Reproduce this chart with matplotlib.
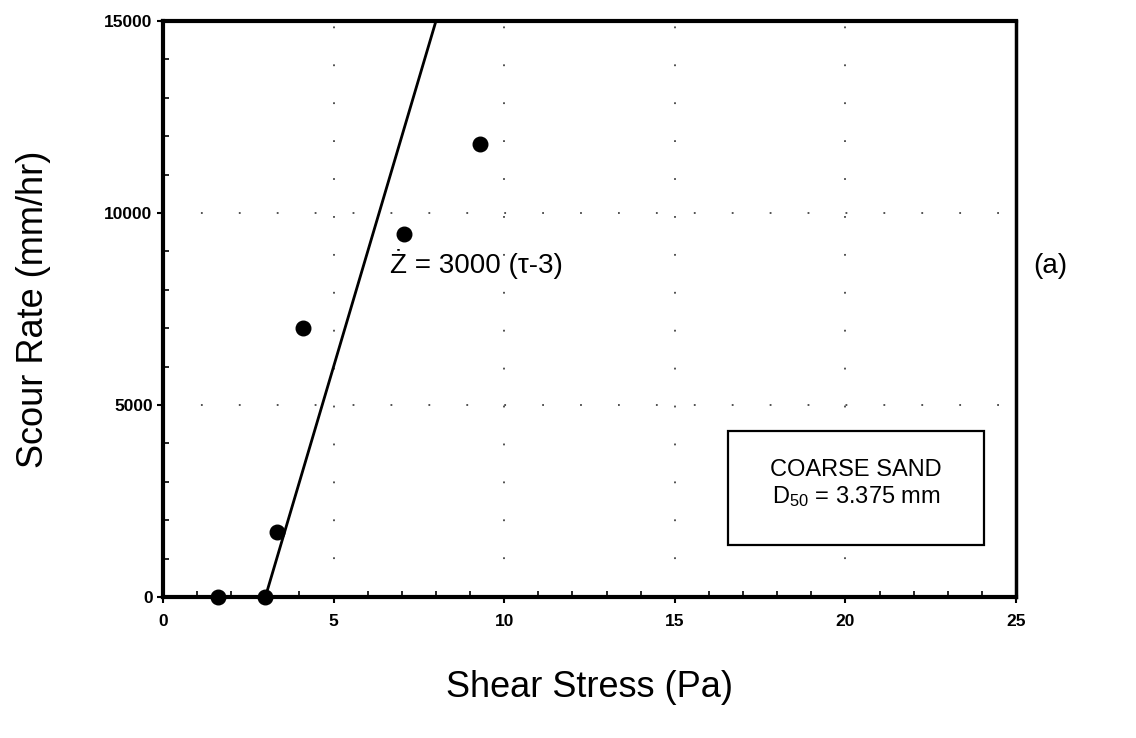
import matplotlib
matplotlib.use("Agg")
import matplotlib.pyplot as plt
from matplotlib.ticker import MultipleLocator
from matplotlib.patches import Rectangle

plt.rcParams['font.family'] = ['Liberation Sans', 'DejaVu Sans']

# Measured scour rates for coarse sand
shear_stress = [1.6, 3.0, 3.35, 4.1, 7.05, 9.3]
scour_rate = [0, 0, 1700, 7000, 9450, 11800]

# Fitted relation Z = 3000 (tau - 3)
fit_slope = 3000
fit_tau_c = 3.0
fit_tau = [fit_tau_c, 8.0]

x_ticks = [0, 5, 10, 15, 20, 25]
y_ticks = [0, 5000, 10000, 15000]

W, H = 1136, 738
fig = plt.figure(figsize=(W / 100, H / 100), dpi=100)
ax = fig.add_axes([163 / W, 1 - 597 / H, (1016 - 163) / W, (597 - 21) / H])

# sparse dotted grid
for xv in x_ticks[1:-1]:
    ax.axvline(xv, color='#444444', lw=1.3, ls=(0, (1, 20)), zorder=1)
for yv in y_ticks[1:-1]:
    ax.axhline(yv, color='#444444', lw=1.3, ls=(0, (1, 20)), zorder=1)

fit_z = [fit_slope * (t - fit_tau_c) for t in fit_tau]
ax.plot(fit_tau, fit_z, color='black', lw=2.0, zorder=3)
ax.plot([0, fit_tau_c], [0, 0], color='black', lw=2.0, zorder=3)
ax.scatter(shear_stress, scour_rate, s=110, color='black', zorder=4, clip_on=False)

ax.set_xlim(0, 25)
ax.set_ylim(0, 15000)
ax.set_xticks(x_ticks)
ax.set_yticks(y_ticks)
ax.xaxis.set_minor_locator(MultipleLocator(1))
ax.yaxis.set_minor_locator(MultipleLocator(1000))
ax.tick_params(axis='both', which='major', direction='out', length=4, width=1.5,
               labelsize=12.5)
ax.tick_params(axis='both', which='minor', direction='in', length=4, width=1.2)
ax.tick_params(axis='x', which='major', pad=8)
for lab in ax.get_xticklabels() + ax.get_yticklabels():
    lab.set_fontweight('bold')

for side in ['left', 'bottom', 'top']:
    ax.spines[side].set_linewidth(3.0)
ax.spines['right'].set_linewidth(2.5)

ax.set_xlabel('Shear Stress (Pa)', fontsize=26, labelpad=30)
ax.set_ylabel('Scour Rate (mm/hr)', fontsize=26, labelpad=38)

ax.text(6.65, 8680, '\u017b = 3000 (\u03c4-3)', fontsize=20,
        va='center', ha='left', zorder=5)

fig.text(1050 / W, 1 - 266 / H, '(a)', fontsize=20, va='center', ha='center')

# annotation box for the sediment description
bx0, bx1 = (728 - 163) / (1016 - 163), (984 - 163) / (1016 - 163)
by0, by1 = (597 - 545) / (597 - 21), (597 - 431) / (597 - 21)
ax.add_patch(Rectangle((bx0, by0), bx1 - bx0, by1 - by0, transform=ax.transAxes,
                       fc='white', ec='black', lw=1.6, zorder=5))
bxc = (bx0 + bx1) / 2
ax.text(bxc, (597 - 470) / 576, 'COARSE SAND', transform=ax.transAxes,
        fontsize=17, ha='center', va='center', zorder=6)
ax.text(bxc, (597 - 497) / 576, '$\\mathregular{D_{50}}$ = 3.375 mm',
        transform=ax.transAxes, fontsize=17, ha='center', va='center', zorder=6)

fig.savefig('out.png', dpi=100)
